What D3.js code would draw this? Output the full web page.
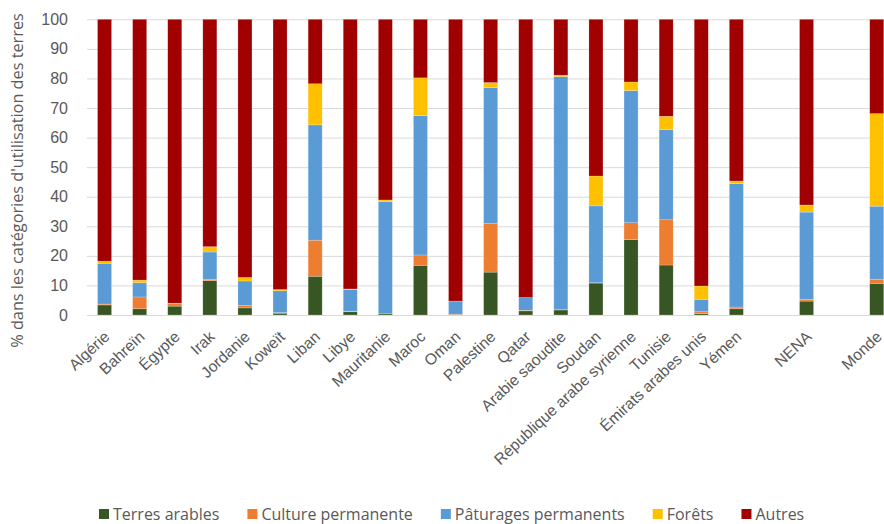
<!DOCTYPE html>
<html lang="fr">
<head>
<meta charset="utf-8">
<script src="https://cdn.jsdelivr.net/npm/d3@7"></script>
<style>
  html, body { margin: 0; padding: 0; background: #fff; }
  svg { display: block; font-family: "Open Sans", Lato, sans-serif; }
</style>
</head>
<body>
<svg id="chart" width="884" height="524"></svg>
<script>
// Répartition de l'utilisation des terres (%) par pays, NENA et Monde
const categories = ["Algérie", "Bahreïn", "Égypte", "Irak", "Jordanie", "Koweït", "Liban", "Libye",
  "Mauritanie", "Maroc", "Oman", "Palestine", "Qatar", "Arabie saoudite", "Soudan",
  "République arabe syrienne", "Tunisie", "Émirats arabes unis", "Yémen", "NENA", "Monde"];

const terresArables      = [3.4, 2.1, 3.0, 11.6, 2.4, 0.6, 13.1, 1.1, 0.4, 16.8, 0.2, 14.5, 1.4, 1.7, 10.8, 25.5, 16.9, 0.5, 2.1, 4.7, 10.7];
const culturePermanente  = [0.3, 4.0, 0.9, 0.5, 0.8, 0.2, 12.2, 0.2, 0.0, 3.5, 0.1, 16.4, 0.2, 0.1, 0.1, 5.7, 15.3, 0.6, 0.6, 0.6, 1.4];
const paturages          = [13.8, 4.8, 0.0, 9.2, 8.3, 7.4, 39.0, 7.4, 38.0, 47.1, 4.4, 46.0, 4.3, 78.8, 26.0, 44.7, 30.5, 4.2, 41.7, 29.5, 24.7];
const forets             = [0.7, 0.9, 0.1, 1.8, 1.2, 0.4, 13.9, 0.1, 0.5, 12.8, 0.0, 1.7, 0.0, 0.5, 10.1, 2.9, 4.5, 4.5, 0.9, 2.4, 31.3];
const autres             = [81.8, 88.2, 96.0, 76.9, 87.3, 91.4, 21.8, 91.2, 61.1, 19.8, 95.3, 21.4, 94.1, 18.9, 53.0, 21.2, 32.8, 90.2, 54.7, 62.8, 31.9];

const seriesNames  = ["Terres arables", "Culture permanente", "Pâturages permanents", "Forêts", "Autres"];
const seriesColors = ["#375623", "#ED7D31", "#5B9BD5", "#FFC000", "#A00000"];
const yTicks = [0, 10, 20, 30, 40, 50, 60, 70, 80, 90, 100];

// Slots: the aggregates NENA and Monde are separated by empty slots
const slots = [...categories.slice(0, 19), "__gap1", "NENA", "__gap2", "Monde"];

const rows = categories.map((c, i) => ({
  cat: c,
  "Terres arables": terresArables[i],
  "Culture permanente": culturePermanente[i],
  "Pâturages permanents": paturages[i],
  "Forêts": forets[i],
  "Autres": autres[i]
}));

const svg = d3.select("#chart");
const plotLeft = 87, plotTop = 19.3, plotBottom = 315;
const step = 35.1;
const plotRight = plotLeft + slots.length * step;
const textColor = "#595959";

// Font size that gives a text a wanted rendered length
function fitSize(text, baseSize, targetLength) {
  const probe = svg.append("text").style("font-size", baseSize + "px").text(text);
  const len = probe.node().getComputedTextLength();
  probe.remove();
  return baseSize * targetLength / len;
}

const x = d3.scaleBand().domain(slots).range([plotLeft, plotRight]).paddingInner(0.6).paddingOuter(0.3);
const y = d3.scaleLinear().domain([0, 100]).range([plotBottom, plotTop]);

// Gridlines and y axis labels
const yAxis = d3.axisLeft(y).tickValues(yTicks).tickSize(-(plotRight - plotLeft)).tickPadding(19);
const gy = svg.append("g").attr("transform", `translate(${plotLeft},0)`).call(yAxis);
gy.select(".domain").remove();
gy.selectAll(".tick line").attr("stroke", "#d9d9d9").attr("stroke-width", 1);
gy.selectAll(".tick text").attr("fill", textColor).style("font-size", "16px");

// Stacked bars
const stack = d3.stack().keys(seriesNames);
const layers = stack(rows);
svg.append("g").selectAll("g").data(layers).join("g")
  .attr("fill", (d, i) => seriesColors[i])
  .selectAll("rect").data(d => d).join("rect")
  .attr("x", d => x(d.data.cat))
  .attr("width", x.bandwidth())
  .attr("y", d => y(d[1]))
  .attr("height", d => Math.max(0, y(d[0]) - y(d[1])))
  .attr("stroke", "rgba(255,255,255,0.35)")
  .attr("stroke-width", 0.6);

// X axis category labels, slanted
const labelSize = fitSize("République arabe syrienne", 15, 196);
const xAxis = d3.axisBottom(x).tickSize(0).tickPadding(0).tickFormat(d => d.startsWith("__") ? "" : d);
const gx = svg.append("g").attr("transform", `translate(0,${plotBottom})`).call(xAxis);
gx.select(".domain").attr("stroke", "#d9d9d9");
gx.selectAll(".tick text")
  .attr("fill", textColor)
  .style("font-size", labelSize + "px")
  .attr("text-anchor", "end")
  .attr("dy", "0")
  .attr("transform", "translate(6,23) rotate(-43)");

// Y axis title
const titleText = "% dans les catégories d'utilisation des terres";
const titleSize = fitSize(titleText, 16, 335);
svg.append("text")
  .attr("transform", "translate(23,180.5) rotate(-90)")
  .attr("text-anchor", "middle")
  .attr("fill", textColor)
  .style("font-size", titleSize + "px")
  .text(titleText);

// Legend
const legend = svg.append("g").attr("transform", "translate(99,514)");
let lx = 0;
seriesNames.forEach((name, i) => {
  const g = legend.append("g").attr("transform", `translate(${lx},0)`);
  g.append("rect").attr("x", 0).attr("y", -5).attr("width", 10).attr("height", 10).attr("fill", seriesColors[i]);
  const t = g.append("text").attr("x", 14).attr("y", 6).attr("fill", textColor)
    .style("font-size", "16px").text(name);
  lx += 14 + t.node().getComputedTextLength() + 28;
});
</script>
</body>
</html>
